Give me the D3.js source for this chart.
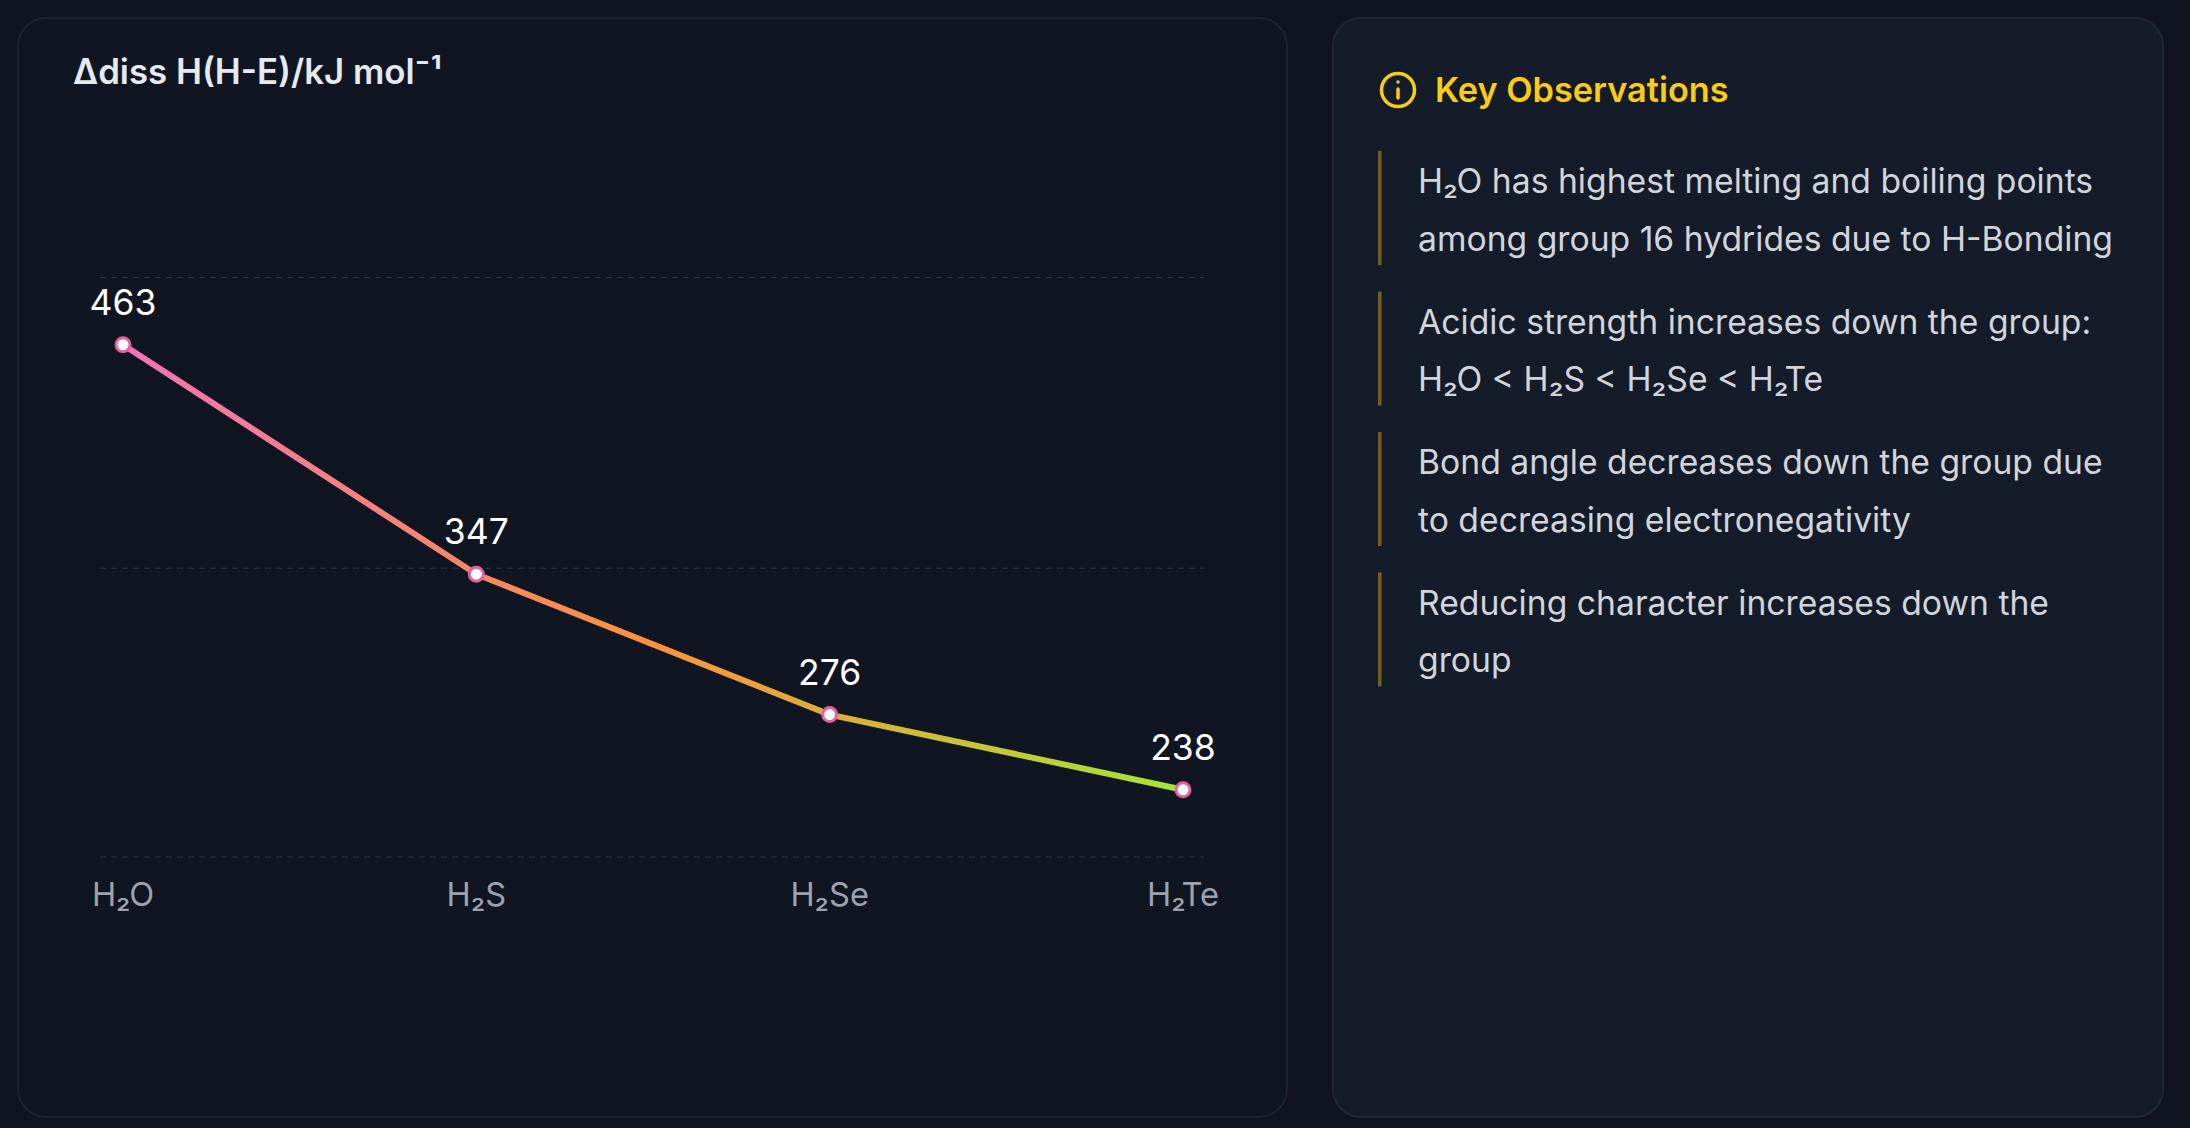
<!DOCTYPE html>
<html><head><meta charset="utf-8">
<script src="https://cdn.jsdelivr.net/npm/d3@7"></script>
<style>html,body{margin:0;padding:0;background:#0f1420;overflow:hidden}svg{display:block}text{font-family:Inter,sans-serif}</style>
</head><body><svg id="c" width="2190" height="1128"></svg>
<script>
const categories=["H₂O","H₂S","H₂Se","H₂Te"];
const values=[463,347,276,238];
const gridTicks=[204,350,497];
const chartTitle="Δdiss H(H-E)/kJ mol⁻¹";
const panelTitle="Key Observations";
const observations=[
 ["H₂O has highest melting and boiling points","among group 16 hydrides due to H-Bonding"],
 ["Acidic strength increases down the group:","H₂O < H₂S < H₂Se < H₂Te"],
 ["Bond angle decreases down the group due","to decreasing electronegativity"],
 ["Reducing character increases down the","group"]];
const svg=d3.select("#c");
const x=d3.scalePoint().domain(categories).range([123,1183]);
const y=d3.scaleLinear().domain([204,497]).range([857,277.5]);
const defs=svg.append("defs");
const grad=defs.append("linearGradient").attr("id","lg").attr("gradientUnits","userSpaceOnUse")
 .attr("x1",x.range()[0]).attr("x2",x.range()[1]).attr("y1",0).attr("y2",0);
[["0%","#f472b6"],["50%","#fb923c"],["100%","#a3e635"]].forEach(s=>grad.append("stop").attr("offset",s[0]).attr("stop-color",s[1]));
svg.append("rect").attr("width",2190).attr("height",1128).attr("fill","#0f1420");
svg.append("rect").attr("x",18).attr("y",18).attr("width",1269).attr("height",1099).attr("rx",28).attr("fill","#0f1622").attr("stroke","#1c2433").attr("stroke-width",2);
svg.append("rect").attr("x",1333).attr("y",18).attr("width",830).attr("height",1099).attr("rx",28).attr("fill","#141b29").attr("stroke","#1f2735").attr("stroke-width",2);
svg.append("text").attr("x",73).attr("y",84).attr("fill","#e5e9f0").attr("font-size",34.8).attr("font-weight",600).text(chartTitle);
svg.append("g").selectAll("line").data(gridTicks).join("line")
 .attr("x1",100).attr("x2",1204).attr("y1",d=>y(d)).attr("y2",d=>y(d))
 .attr("stroke","#2e3644").attr("stroke-dasharray","6 5").attr("stroke-width",1.2);
const line=d3.line().x((d,i)=>x(categories[i])).y(d=>y(d));
svg.append("path").attr("d",line(values)).attr("fill","none").attr("stroke","url(#lg)").attr("stroke-width",6);
svg.append("g").selectAll("circle").data(values).join("circle")
 .attr("cx",(d,i)=>x(categories[i])).attr("cy",d=>y(d)).attr("r",7)
 .attr("fill","#fff").attr("stroke","#e8609f").attr("stroke-width",3);
svg.append("g").selectAll("text").data(values).join("text")
 .attr("x",(d,i)=>x(categories[i])).attr("y",d=>y(d)-30).attr("text-anchor","middle")
 .attr("fill","#fff").attr("font-size",35.5).text(d=>d);
svg.append("g").selectAll("text").data(categories).join("text")
 .attr("x",d=>x(d)).attr("y",906).attr("text-anchor","middle")
 .attr("fill","#9ca3af").attr("font-size",32.6).text(d=>d);
const ic=svg.append("g").attr("transform","translate(1398,90)").attr("fill","none").attr("stroke","#facc15");
ic.append("circle").attr("r",16.5).attr("stroke-width",3.5);
ic.append("line").attr("y1",-1).attr("y2",8).attr("stroke-width",3.5).attr("stroke-linecap","round");
ic.append("line").attr("y1",-8).attr("y2",-8).attr("stroke-width",3.5).attr("stroke-linecap","round");
svg.append("text").attr("x",1435).attr("y",102).attr("fill","#facc15").attr("font-size",34.3).attr("font-weight",600).text(panelTitle);
const item=svg.append("g").selectAll("g").data(observations).join("g").attr("transform",(d,i)=>`translate(0,${i*140.5})`);
item.append("rect").attr("x",1378).attr("y",151).attr("width",3.5).attr("height",114).attr("fill","#eab308").attr("fill-opacity",.45);
item.selectAll("text").data(d=>d).join("text").attr("x",1418).attr("y",(d,i)=>193+i*57.5)
 .attr("fill","#d1d5db").attr("font-size",33.7).text(d=>d);
</script></body></html>
